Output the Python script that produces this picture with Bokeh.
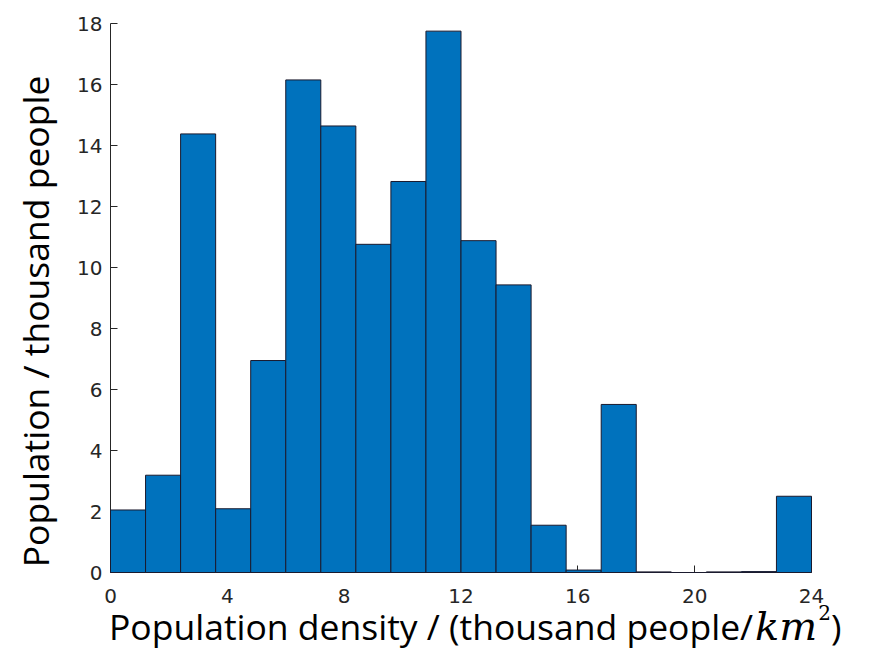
import math
from bokeh.plotting import figure
from bokeh.models import Range1d, Label, FixedTicker, Div
from bokeh.layouts import row, column
from bokeh.embed import file_html
from bokeh.resources import INLINE

# ---- data ----
bin_edges = [0.0, 1.2, 2.4, 3.6, 4.8, 6.0, 7.2, 8.4, 9.6, 10.8, 12.0,
             13.2, 14.4, 15.6, 16.8, 18.0, 19.2, 20.4, 21.6, 22.8, 24.0]
population = [2.05, 3.19, 14.38, 2.09, 6.95, 16.15, 14.64, 10.76, 12.82, 17.75,
              10.88, 9.43, 1.55, 0.08, 5.51, 0.02, 0.0, 0.02, 0.03, 2.50]
x_ticks = [0, 4, 8, 12, 16, 20, 24]
y_ticks = [0, 2, 4, 6, 8, 10, 12, 14, 16, 18]

x_label_main = "Population density / (thousand people/"
x_label_unit = "km"
x_label_exp = "2"
x_label_close = ")"
y_label = "Population / thousand people"

AX = "#262626"
TOTAL_W, TOTAL_H = 854, 644
YLAB_W = 60
MAIN_H = 610

# ---- main histogram ----
p = figure(width=TOTAL_W - YLAB_W, height=MAIN_H, output_backend="svg",
           toolbar_location=None,
           x_range=Range1d(0, 24), y_range=Range1d(0, 18),
           min_border_left=50, min_border_right=43,
           min_border_top=23, min_border_bottom=38)
p.outline_line_color = None
p.xgrid.visible = False
p.ygrid.visible = False
p.background_fill_color = "white"
p.border_fill_color = "white"

p.quad(left=bin_edges[:-1], right=bin_edges[1:], bottom=0, top=population,
       fill_color="#0072BD", line_color="#1a1a2e", line_width=1, level="overlay")

for ax in (p.xaxis[0], p.yaxis[0]):
    ax.axis_line_color = AX
    ax.axis_line_width = 1
    ax.major_tick_line_color = AX
    ax.major_tick_in = 7
    ax.major_tick_out = 0
    ax.minor_tick_line_color = None
    ax.major_label_text_font = "DejaVu Sans"
    ax.major_label_text_font_size = "20px"
    ax.major_label_text_color = AX
    ax.axis_label = None

p.xaxis.ticker = FixedTicker(ticks=x_ticks)
p.yaxis.ticker = FixedTicker(ticks=y_ticks)
p.xaxis.major_label_standoff = 16
p.yaxis.major_label_standoff = 8

# ---- y label panel ----
yfig = figure(width=YLAB_W, height=MAIN_H, output_backend="svg", toolbar_location=None,
              x_range=Range1d(0, 1), y_range=Range1d(0, 1),
              x_axis_location=None, y_axis_location=None,
              min_border=0, min_border_left=0, min_border_right=0,
              min_border_top=0, min_border_bottom=0)
yfig.outline_line_color = None
yfig.xgrid.visible = False
yfig.ygrid.visible = False
yfig.add_layout(Label(x=34, y=251, x_units="screen", y_units="screen",
                      text=y_label, angle=math.pi / 2, text_align="center",
                      text_baseline="alphabetic", text_font="Open Sans",
                      text_font_size="35.5px", text_color="black"))

# ---- x label (mixed styles) ----
html = (
    '<div style="position:relative;width:854px;height:34px;overflow:visible;">'
    '<div style="position:absolute;left:104px;top:-7px;line-height:36px;white-space:nowrap;'
    "font-family:'Open Sans';font-size:35.5px;color:black;\">"
    f'<span>{x_label_main}</span>'
    "<span style=\"font-family:'DejaVu Serif';font-style:italic;font-size:40px;"
    f'margin-left:2px;">{x_label_unit}</span>'
    "<span style=\"font-family:'DejaVu Serif';font-size:20px;position:relative;top:-20px;"
    f'margin-left:1px;">{x_label_exp}</span>'
    f'<span>{x_label_close}</span>'
    '</div></div>'
)
xdiv = Div(text=html, width=TOTAL_W, height=TOTAL_H - MAIN_H,
           styles={"overflow": "visible"})

layout = column(row(yfig, p), xdiv)
open("out.html", "w").write(file_html(layout, INLINE))
